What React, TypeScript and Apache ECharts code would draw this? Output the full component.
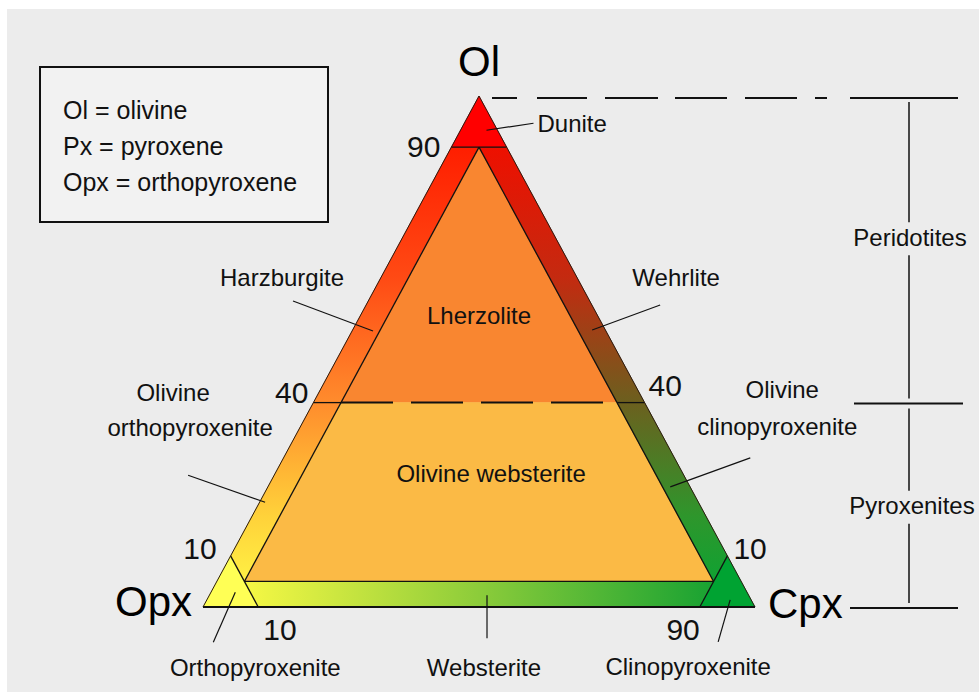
import React, { useEffect, useRef } from "react";
import * as echarts from "echarts";

// ---------- data (ternary points are [Ol, Opx, Cpx] in vol.%) ----------
const APEX_NAMES = ["Ol", "Opx", "Cpx"];
const APEX_POINTS = [
  [100, 0, 0],
  [0, 100, 0],
  [0, 0, 100],
];

const REGION_NAMES = [
  "Dunite",
  "Harzburgite",
  "Lherzolite",
  "Wehrlite",
  "Olivine orthopyroxenite",
  "Olivine websterite",
  "Olivine clinopyroxenite",
  "Orthopyroxenite",
  "Websterite",
  "Clinopyroxenite",
];

const DUNITE = [[100, 0, 0], [90, 10, 0], [90, 0, 10]];
const HARZBURGITE = [[90, 10, 0], [40, 60, 0], [40, 55, 5], [90, 5, 5]];
const LHERZOLITE = [[90, 5, 5], [40, 55, 5], [40, 5, 55]];
const WEHRLITE = [[90, 0, 10], [90, 5, 5], [40, 5, 55], [40, 0, 60]];
const OL_ORTHOPYROXENITE = [[40, 60, 0], [10, 90, 0], [5, 90, 5], [40, 55, 5]];
const OL_WEBSTERITE = [[40, 55, 5], [5, 90, 5], [5, 5, 90], [40, 5, 55]];
const OL_CLINOPYROXENITE = [[40, 5, 55], [5, 5, 90], [10, 0, 90], [40, 0, 60]];
const ORTHOPYROXENITE = [[0, 100, 0], [10, 90, 0], [0, 90, 10]];
const WEBSTERITE = [[5, 90, 5], [0, 90, 10], [0, 10, 90], [5, 5, 90]];
const CLINOPYROXENITE = [[0, 0, 100], [0, 10, 90], [10, 0, 90]];

const REGIONS = [
  DUNITE,
  HARZBURGITE,
  LHERZOLITE,
  WEHRLITE,
  OL_ORTHOPYROXENITE,
  OL_WEBSTERITE,
  OL_CLINOPYROXENITE,
  ORTHOPYROXENITE,
  WEBSTERITE,
  CLINOPYROXENITE,
];

const SOLID_BOUNDARIES = [
  [[90, 10, 0], [90, 0, 10]],
  [[90, 5, 5], [5, 90, 5]],
  [[90, 5, 5], [5, 5, 90]],
  [[40, 60, 0], [40, 55, 5]],
  [[40, 5, 55], [40, 0, 60]],
  [[5, 90, 5], [5, 5, 90]],
  [[10, 90, 0], [0, 90, 10]],
  [[10, 0, 90], [0, 10, 90]],
];
const DASHED_BOUNDARIES = [[[40, 55, 5], [40, 5, 55]]];

const TICK_LABELS = ["90", "40", "10", "10", "90", "10", "40"];
const TICK_POINTS = [
  [90, 10, 0],
  [40, 60, 0],
  [10, 90, 0],
  [0, 90, 10],
  [0, 10, 90],
  [10, 0, 90],
  [40, 0, 60],
];

const LEGEND_LINES = ["Ol = olivine", "Px = pyroxene", "Opx = orthopyroxene"];
const GROUP_NAMES = ["Peridotites", "Pyroxenites"];
const GROUP_OL_LEVELS = [100, 40, 0];

// ---------- layout / style ----------
const FONT = '"Liberation Sans", Arial, Helvetica, sans-serif';
const INK = "#111111";

// point in each region that a label or leader refers to
const LABEL_ANCHORS = [
  [93.3, 2, 4.7],
  [54, 42.2, 3.8],
  [57, 21.5, 21.5],
  [54.2, 2.4, 43.4],
  [20.5, 78.5, 1],
  [26.2, 34.7, 39.1],
  [23.5, 3.6, 72.9],
  [2.9, 92.7, 4.4],
  [2.3, 47.4, 50.3],
  [1.4, 3.8, 94.8],
];
// pixel offsets from anchor: leader end, text lines [text, dx, dy, align]
const LABEL_LAYOUT: any[] = [
  { leader: [47, -7], lines: [["Dunite", 51, -7, "left"]] },
  { leader: [-80, -30], lines: [["Harzburgite", -91, -54, "center"]] },
  { leader: null, lines: [["Lherzolite", 0, 0, "center"]] },
  { leader: [68, -25], lines: [["Wehrlite", 84, -53, "center"]] },
  { leader: [-77, -27], lines: [["Olivine", -92, -110, "center"], ["orthopyroxenite", -75, -75, "center"]] },
  { leader: null, lines: [["Olivine websterite", 0, 0, "center"]] },
  { leader: [80, -29], lines: [["Olivine", 112, -97, "center"], ["clinopyroxenite", 107, -60, "center"]] },
  { leader: [-22, 50], lines: [["Orthopyroxenite", 20, 75, "center"]] },
  { leader: [0, 43], lines: [["Websterite", -3, 72, "center"]] },
  { leader: [-12, 42], lines: [["Clinopyroxenite", -42, 67, "center"]] },
];
const APEX_LAYOUT: any[] = [
  [0, -35, "center"],
  [-11, -6, "right"],
  [13, -4, "left"],
];
const TICK_LAYOUT: any[] = [
  [-11, -1, "right"],
  [-5, -10, "right"],
  [-14, -7, "right"],
  [5, 22, "left"],
  [0, 22, "right"],
  [6, -7, "left"],
  [4, -17, "left"],
];

const REGION_COLORS = [
  "#ff0000",
  "band-left",
  "#f98630",
  "band-right",
  "band-left",
  "#fbba45",
  "band-right",
  "#ffff55",
  "band-bottom",
  "#00a332",
];

const toXY = (t: number[]) => [t[2] + t[0] / 2, t[0]];

export default function App() {
  const ref = useRef<HTMLDivElement>(null);

  useEffect(() => {
    if (!ref.current) return;
    const chart = echarts.init(ref.current, undefined, { renderer: "svg" });
    const P = (api: any, t: number[]) => api.coord(toXY(t));

    const fillFor = (i: number, api: any) => {
      const c = REGION_COLORS[i];
      if (c === "band-left") {
        const a = P(api, [90, 10, 0]);
        const b = P(api, [5, 95, 0]);
        return new echarts.graphic.LinearGradient(
          0, a[1], 0, b[1],
          [
            { offset: 0, color: "#ff1e00" },
            { offset: 0.3, color: "#ff4a14" },
            { offset: 0.58, color: "#ff8a2c" },
            { offset: 0.85, color: "#ffd23a" },
            { offset: 1, color: "#fff044" },
          ],
          true
        );
      }
      if (c === "band-right") {
        const a = P(api, [90, 0, 10]);
        const b = P(api, [5, 0, 95]);
        return new echarts.graphic.LinearGradient(
          0, a[1], 0, b[1],
          [
            { offset: 0, color: "#ee1000" },
            { offset: 0.3, color: "#c42a10" },
            { offset: 0.58, color: "#6e5e1e" },
            { offset: 0.85, color: "#2e962c" },
            { offset: 1, color: "#10a232" },
          ],
          true
        );
      }
      if (c === "band-bottom") {
        const a = P(api, [5, 90, 5]);
        const b = P(api, [5, 5, 90]);
        return new echarts.graphic.LinearGradient(
          a[0], 0, b[0], 0,
          [
            { offset: 0, color: "#f6f844" },
            { offset: 0.5, color: "#8ccc3a" },
            { offset: 1, color: "#18a232" },
          ],
          true
        );
      }
      return c;
    };

    const option: any = {
      animation: false,
      backgroundColor: "#ececec",
      grid: { left: 203, right: 224, top: 96, bottom: 85 },
      xAxis: { type: "value", min: 0, max: 100, show: false },
      yAxis: { type: "value", min: 0, max: 100, show: false },
      graphic: [
        { type: "rect", shape: { x: 0, y: 0, width: 979, height: 9 }, style: { fill: "#ffffff" }, silent: true },
        { type: "rect", shape: { x: 0, y: 0, width: 7, height: 692 }, style: { fill: "#ffffff" }, silent: true },
        {
          type: "rect",
          shape: { x: 40, y: 67, width: 288, height: 155 },
          style: { fill: "#f2f2f2", stroke: INK, lineWidth: 2 },
          silent: true,
        },
        ...LEGEND_LINES.map((t, i) => ({
          type: "text",
          x: 63,
          y: 110 + i * 36,
          silent: true,
          style: { text: t, fontSize: 25, fontFamily: FONT, fill: INK, align: "left", verticalAlign: "middle" },
        })),
      ],
      series: [
        {
          type: "custom",
          name: "regions",
          coordinateSystem: "cartesian2d",
          clip: false,
          silent: true,
          z: 2,
          data: REGIONS.map((r, i) => ({ name: REGION_NAMES[i], value: toXY(LABEL_ANCHORS[i]) })),
          renderItem: (params: any, api: any) => {
            const i = params.dataIndex;
            return {
              type: "polygon",
              shape: { points: REGIONS[i].map((t) => P(api, t)) },
              style: { fill: fillFor(i, api), stroke: fillFor(i, api), lineWidth: 0.6 },
            };
          },
        },
        {
          type: "custom",
          name: "boundaries",
          coordinateSystem: "cartesian2d",
          clip: false,
          silent: true,
          z: 3,
          data: [...SOLID_BOUNDARIES, ...DASHED_BOUNDARIES].map((l) => toXY(l[0])),
          renderItem: (params: any, api: any) => {
            const i = params.dataIndex;
            const dashed = i >= SOLID_BOUNDARIES.length;
            const seg = dashed ? DASHED_BOUNDARIES[i - SOLID_BOUNDARIES.length] : SOLID_BOUNDARIES[i];
            const a = P(api, seg[0]);
            const b = P(api, seg[1]);
            return {
              type: "line",
              shape: { x1: a[0], y1: a[1], x2: b[0], y2: b[1] },
              style: { stroke: INK, lineWidth: dashed ? 2 : 1.3, lineDash: dashed ? [52, 18] : null, fill: null },
            };
          },
        },
        {
          type: "custom",
          name: "frame",
          coordinateSystem: "cartesian2d",
          clip: false,
          silent: true,
          z: 4,
          data: [toXY(APEX_POINTS[0])],
          renderItem: (params: any, api: any) => {
            const pts = APEX_POINTS.map((t) => P(api, t));
            return {
              type: "group",
              children: [
                { type: "polygon", shape: { points: pts }, style: { fill: null, stroke: "#2a1a10", lineWidth: 1 } },
                {
                  type: "line",
                  shape: { x1: pts[1][0], y1: pts[1][1], x2: pts[2][0], y2: pts[2][1] },
                  style: { stroke: INK, lineWidth: 2 },
                },
              ],
            };
          },
        },
        {
          type: "custom",
          name: "apices",
          coordinateSystem: "cartesian2d",
          clip: false,
          silent: true,
          z: 5,
          data: APEX_POINTS.map((t, i) => ({ name: APEX_NAMES[i], value: toXY(t) })),
          renderItem: (params: any, api: any) => {
            const i = params.dataIndex;
            const p = P(api, APEX_POINTS[i]);
            const [dx, dy, align] = APEX_LAYOUT[i];
            return {
              type: "text",
              x: p[0] + dx,
              y: p[1] + dy,
              style: { text: APEX_NAMES[i], fontSize: 42, fontFamily: FONT, fill: "#000", align, verticalAlign: "middle" },
            };
          },
        },
        {
          type: "custom",
          name: "ticks",
          coordinateSystem: "cartesian2d",
          clip: false,
          silent: true,
          z: 5,
          data: TICK_POINTS.map((t, i) => ({ name: TICK_LABELS[i], value: toXY(t) })),
          renderItem: (params: any, api: any) => {
            const i = params.dataIndex;
            const p = P(api, TICK_POINTS[i]);
            const [dx, dy, align] = TICK_LAYOUT[i];
            return {
              type: "text",
              x: p[0] + dx,
              y: p[1] + dy,
              style: { text: TICK_LABELS[i], fontSize: 30, fontFamily: FONT, fill: INK, align, verticalAlign: "middle" },
            };
          },
        },
        {
          type: "custom",
          name: "labels",
          coordinateSystem: "cartesian2d",
          clip: false,
          silent: true,
          z: 6,
          data: LABEL_ANCHORS.map((t, i) => ({ name: REGION_NAMES[i], value: toXY(t) })),
          renderItem: (params: any, api: any) => {
            const i = params.dataIndex;
            const p = P(api, LABEL_ANCHORS[i]);
            const lay = LABEL_LAYOUT[i];
            const children: any[] = [];
            if (lay.leader) {
              children.push({
                type: "line",
                shape: { x1: p[0], y1: p[1], x2: p[0] + lay.leader[0], y2: p[1] + lay.leader[1] },
                style: { stroke: INK, lineWidth: 1.2 },
              });
            }
            lay.lines.forEach((ln: any) => {
              children.push({
                type: "text",
                x: p[0] + ln[1],
                y: p[1] + ln[2],
                style: { text: ln[0], fontSize: 24, fontFamily: FONT, fill: INK, align: ln[3], verticalAlign: "middle" },
              });
            });
            return { type: "group", children };
          },
        },
        {
          type: "custom",
          name: "groups",
          coordinateSystem: "cartesian2d",
          clip: false,
          silent: true,
          z: 5,
          data: GROUP_NAMES.map((n, i) => ({
            name: n,
            value: [100, (GROUP_OL_LEVELS[i] + GROUP_OL_LEVELS[i + 1]) / 2],
          })),
          renderItem: (params: any, api: any) => {
            const i = params.dataIndex;
            const yTop = api.coord([0, GROUP_OL_LEVELS[i]])[1];
            const yBot = api.coord([0, GROUP_OL_LEVELS[i + 1]])[1];
            const textOff = i === 0 ? -12 : 1;
            const yMid = (yTop + yBot) / 2 + textOff;
            const bx = 909;
            const children: any[] = [
              { type: "line", shape: { x1: bx, y1: yTop + 6, x2: bx, y2: yMid - 15 }, style: { stroke: INK, lineWidth: 1.5 } },
              { type: "line", shape: { x1: bx, y1: yMid + 18, x2: bx, y2: yBot - 4 }, style: { stroke: INK, lineWidth: 1.5 } },
              {
                type: "line",
                shape: { x1: i === 0 ? 854 : 850, y1: yBot + 1, x2: i === 0 ? 963 : 958, y2: yBot + 1 },
                style: { stroke: INK, lineWidth: 2 },
              },
              {
                type: "text",
                x: bx + (i === 0 ? 1 : 3),
                y: yMid,
                style: { text: GROUP_NAMES[i], fontSize: 24, fontFamily: FONT, fill: INK, align: "center", verticalAlign: "middle" },
              },
            ];
            if (i === 0) {
              children.push({
                type: "line",
                shape: { x1: 492, y1: yTop + 2, x2: 958, y2: yTop + 2 },
                style: {
                  stroke: INK,
                  lineWidth: 2,
                  lineDash: [25, 20, 50, 18, 53, 17, 52, 18, 52, 18, 12, 23, 108, 0],
                },
              });
            }
            return { type: "group", children };
          },
        },
      ],
    };

    chart.setOption(option);
    return () => chart.dispose();
  }, []);

  return (
    <div style={{ position: "fixed", left: 0, top: 0, width: 979, height: 692, background: "#fff" }}>
      <div ref={ref} style={{ width: 979, height: 692 }} />
    </div>
  );
}
